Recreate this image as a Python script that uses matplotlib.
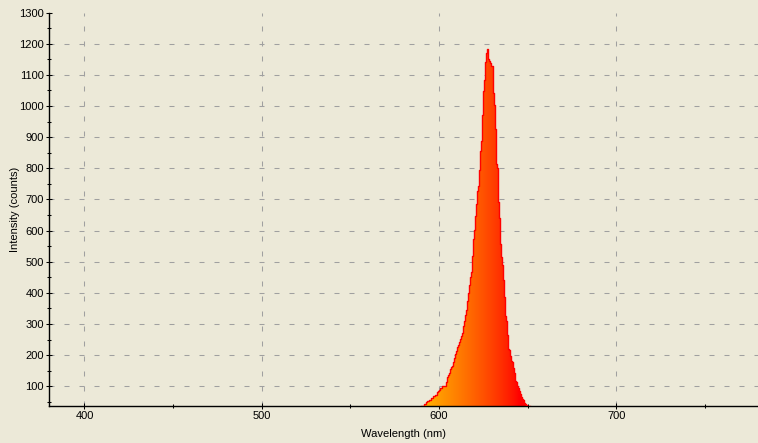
import numpy as np
import matplotlib
matplotlib.use("Agg")
import matplotlib.pyplot as plt
from matplotlib.ticker import MultipleLocator

# ---- data ----
wavelength_nm = [
    589.7, 590.3, 590.9, 591.4, 592.0, 592.6, 593.1, 593.7, 594.2, 594.8,
    595.4, 595.9, 596.5, 597.1, 597.6, 598.2, 598.8, 599.3, 599.9, 600.5,
    601.0, 601.6, 602.1, 602.7, 603.3, 603.8, 604.4, 605.0, 605.5, 606.1,
    606.7, 607.2, 607.8, 608.4, 608.9, 609.5, 610.0, 610.6, 611.2, 611.7,
    612.3, 612.9, 613.4, 614.0, 614.6, 615.1, 615.7, 616.3, 616.8, 617.4,
    617.9, 618.5, 619.1, 619.6, 620.2, 620.8, 621.3, 621.9, 622.5, 623.0,
    623.6, 624.2, 624.7, 625.3, 625.8, 626.4, 627.0, 627.5, 628.1, 628.7,
    629.2, 629.8, 630.4, 630.9, 631.5, 632.1, 632.6, 633.2, 633.7, 634.3,
    634.9, 635.4, 636.0, 636.6, 637.1, 637.7, 638.3, 638.8, 639.4, 640.0,
    640.5, 641.1, 641.6, 642.2, 642.8, 643.3, 643.9, 644.5, 645.0, 645.6,
    646.2, 646.7, 647.3, 647.8, 648.4, 649.0, 649.5, 650.1, 650.7, 651.2,
]
intensity_counts = [
    36, 37, 37, 38, 43, 43, 48, 52, 52, 57,
    57, 62, 62, 69, 69, 73, 73, 80, 86, 89,
    95, 95, 102, 101, 101, 101, 113, 129, 136, 144,
    156, 163, 166, 179, 191, 204, 212, 225, 233, 243,
    251, 261, 271, 293, 309, 329, 345, 375, 399, 424,
    450, 466, 517, 574, 601, 646, 685, 727, 743, 795,
    856, 888, 972, 1049, 1085, 1141, 1169, 1182, 1152, 1145,
    1137, 1130, 1128, 1042, 1004, 926, 815, 800, 692, 639,
    556, 515, 488, 442, 388, 327, 309, 266, 219, 216,
    198, 182, 178, 160, 144, 117, 114, 101, 96, 85,
    74, 67, 60, 55, 47, 44, 40, 37, 36.5, 36.5,
]
x_ticks = [400, 500, 600, 700]
y_ticks = [100, 200, 300, 400, 500, 600, 700, 800, 900, 1000, 1100, 1200, 1300]
x_label = "Wavelength (nm)"
y_label = "Intensity (counts)"

# ---- style ----
BG = "#ECE9D8"
plt.rcParams["font.family"] = ["Liberation Sans", "DejaVu Sans"]
plt.rcParams["font.size"] = 8
plt.rcParams["lines.scale_dashes"] = False

W, H = 758, 443
fig = plt.figure(figsize=(W / 100, H / 100), dpi=100)
fig.patch.set_facecolor(BG)

ax_left, ax_right, ax_top, ax_bottom = 49, 758, 12.6, 406.2
ax = fig.add_axes([ax_left / W, (H - ax_bottom) / H,
                   (ax_right - ax_left) / W, (ax_bottom - ax_top) / H])
ax.set_facecolor(BG)

YMIN, YMAX = 36, 1300
ax.set_xlim(380, 780)
ax.set_ylim(YMIN, YMAX)

wl = np.array(wavelength_nm)
ct = np.array(intensity_counts)

# gradient fill clipped to the spectrum shape
fill = ax.fill_between(wl, ct, YMIN, step="mid", facecolor="none",
                       edgecolor="none", zorder=2)
gx = np.linspace(585, 655, 400)
g = np.clip((645 - gx) / (645 - 580), 0, 1) ** 0.8
rgb = np.zeros((2, gx.size, 3))
rgb[..., 0] = 1.0
rgb[..., 1] = g[None, :] * 0.82
rgb[..., 2] = 0.0
im = ax.imshow(rgb, extent=[gx[0], gx[-1], YMIN, YMAX], aspect="auto",
               origin="lower", interpolation="bilinear", zorder=2)
im.set_clip_path(fill.get_paths()[0], transform=ax.transData)
ax.step(wl, ct, where="mid", color="#FF0000", lw=1.0, zorder=3)

# axes, ticks
for s in ("top", "right"):
    ax.spines[s].set_visible(False)
for s in ("left", "bottom"):
    ax.spines[s].set_color("black")
    ax.spines[s].set_linewidth(1.0)

ax.set_xticks(x_ticks)
ax.set_yticks(y_ticks)
ax.xaxis.set_minor_locator(MultipleLocator(50))
ax.yaxis.set_minor_locator(MultipleLocator(50))
ax.tick_params(which="major", direction="inout", length=4.3, width=0.75,
               color="black", labelcolor="black", labelsize=8, pad=1.5)
ax.tick_params(which="minor", direction="inout", length=3.0, width=0.75,
               color="black")

# dashed grid
ax.set_axisbelow(True)
ax.grid(True, which="major", color="#A0A0A0", lw=0.75,
        linestyle=(0, (3.6, 7.2)))
for t, v in zip(ax.yaxis.get_major_ticks(), y_ticks):
    if v == 1300:
        t.gridline.set_visible(False)

ax.set_xlabel(x_label, fontsize=8, labelpad=5.5)
ax.set_ylabel(y_label, fontsize=8, labelpad=-0.5)

fig.savefig("out.png", dpi=100, facecolor=BG)
